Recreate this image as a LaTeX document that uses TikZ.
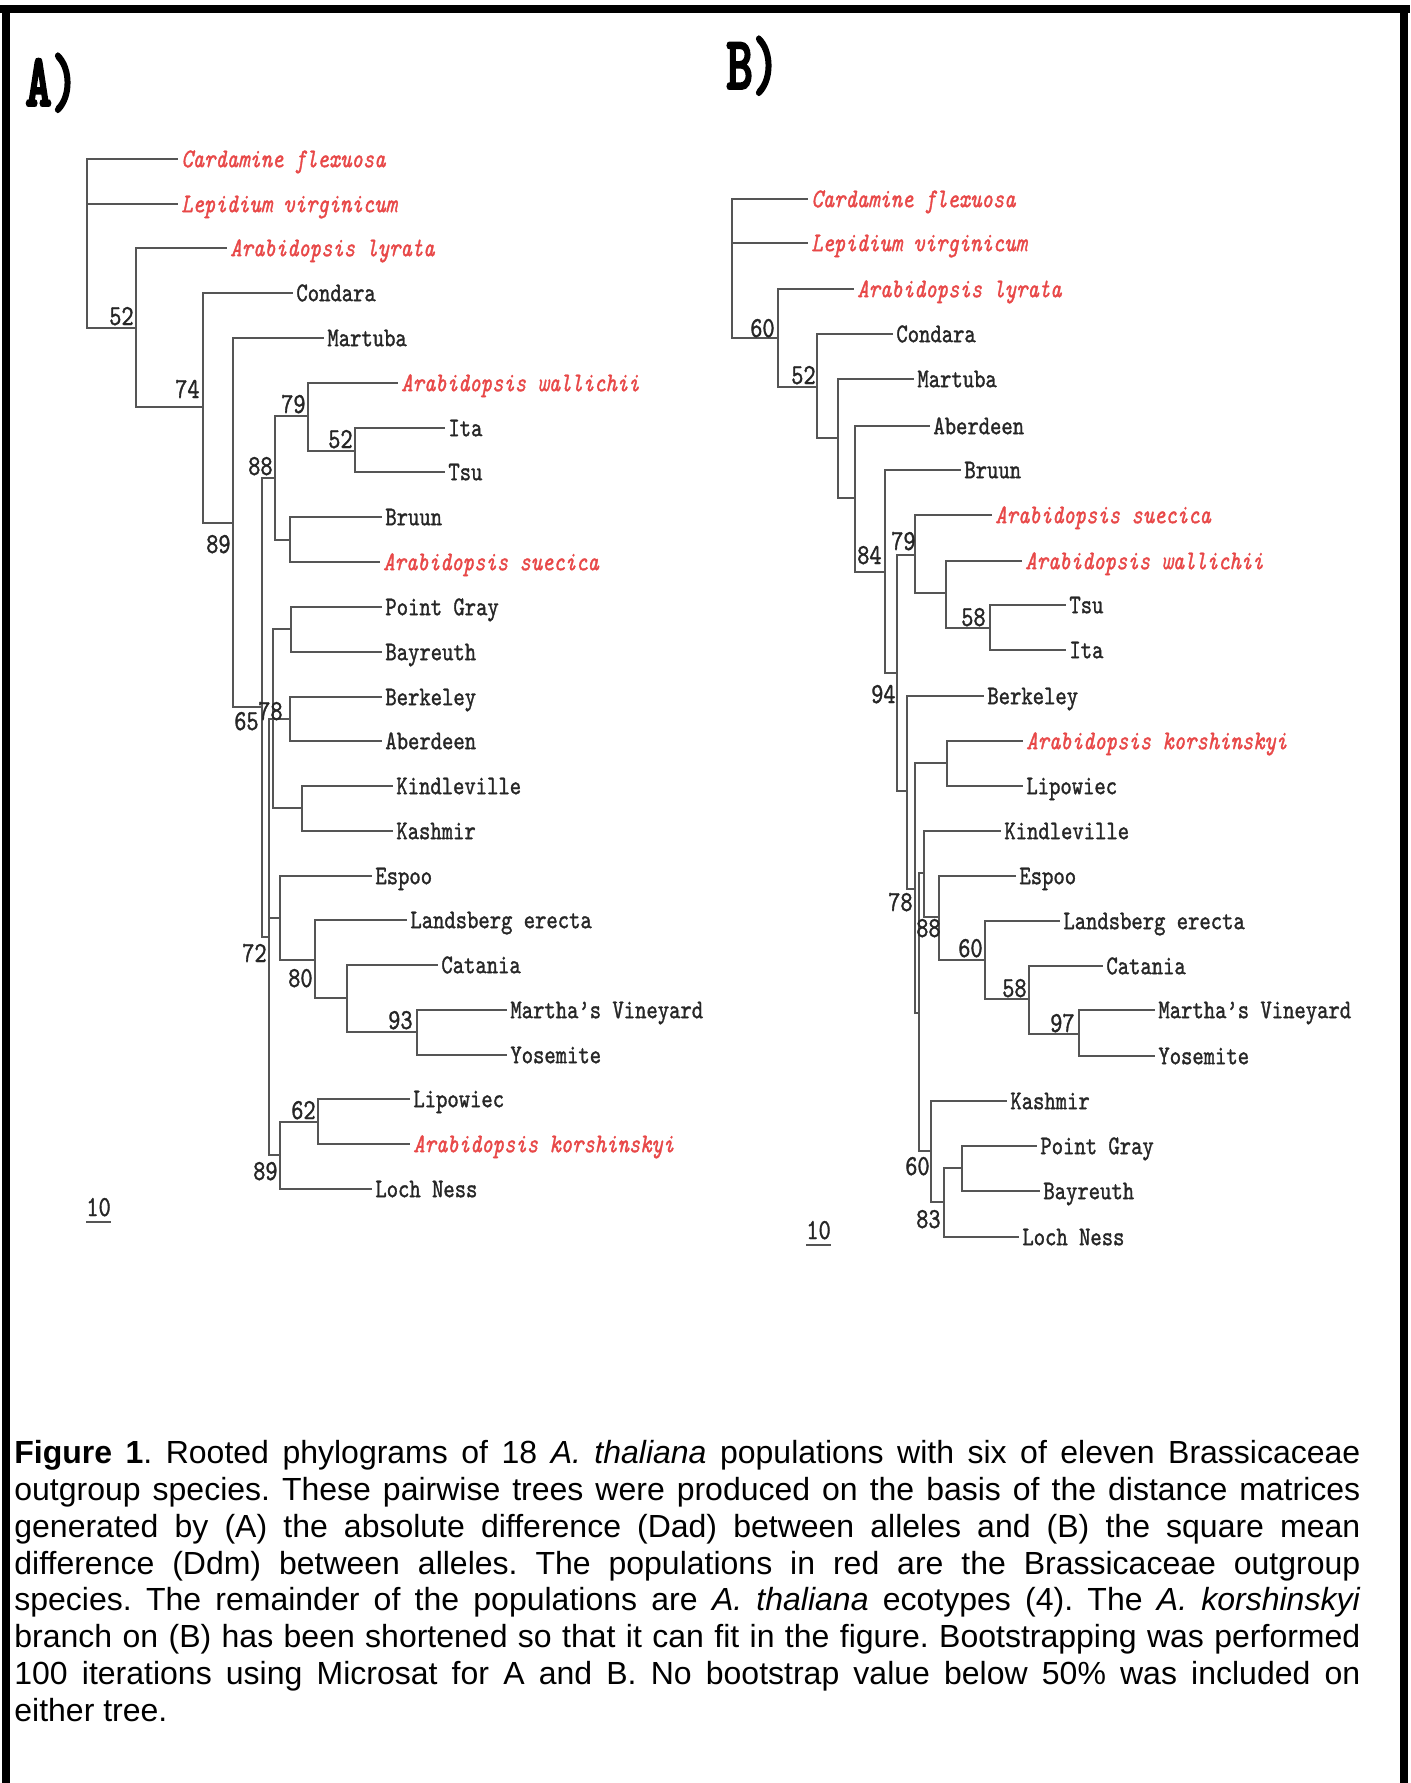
\documentclass[tikz,border=0pt]{standalone}
\usepackage{fontspec}
\setmainfont{Liberation Sans}
\newfontfamily\treefont{lmmono10-regular}[Extension=.otf, ItalicFont=lmmono10-italic, FakeStretch=0.8, FakeBold=1.2]
\newfontfamily\panelfont{lmmonolt10-bold}[Extension=.otf, FakeStretch=0.66, FakeBold=2.5]
\usetikzlibrary{positioning}
\definecolor{outred}{RGB}{232,72,72}
\definecolor{branch}{RGB}{85,85,85}

\begin{document}
\begin{tikzpicture} [
    x=0.5pt, y=-0.5pt,
    br/.style = {branch, line width=1pt},
    leaf/.style = {anchor=west, inner xsep=1.5pt, inner ysep=0pt, text height=8.2pt, text depth=0pt,
        text=black!85, font=\treefont\fontsize{13.5}{14}\selectfont},
    outgrp/.style = {leaf, text=outred, font=\treefont\itshape\fontsize{13.5}{14}\selectfont},
    boot/.style = {anchor=base east, inner sep=0pt, text=black!85, font=\treefont\fontsize{14.5}{15}\selectfont},
    panel/.style = {anchor=base west, inner sep=0pt, font=\panelfont\fontsize{38}{40}\selectfont}
]
    \fill[white] (0,0) rectangle (1410,1783);
    \useasboundingbox (0,0) rectangle (1410,1783);

    % frame
    \draw[line width=4pt] (6,5) -- (6,1783);
    \draw[line width=4pt] (1404,5) -- (1404,1783);
    \draw[line width=4pt] (0,9) -- (1410,9);

    \node[panel] (panA) at (25,106) {A)};
    \node[panel] (panB) at (726,89) {B)};

    % ---------- tree A ----------
    \coordinate (aR)   at (87,243);
    \coordinate (a52)  at (136,328);
    \coordinate (a74)  at (203,407);
    \coordinate (a89)  at (233,523);
    \coordinate (a65)  at (262,707);
    \coordinate (a88)  at (275,478);
    \coordinate (a79)  at (308,416);
    \coordinate (a52b) at (355,451);
    \coordinate (aBS)  at (290,540);
    \coordinate (a72)  at (269,937);
    \coordinate (a78)  at (273,719);
    \coordinate (aPB)  at (291,629);
    \coordinate (aBA)  at (290,719);
    \coordinate (aKK)  at (302,808);
    \coordinate (aEs)  at (280,918);
    \coordinate (a80)  at (315,960);
    \coordinate (aC)   at (347,998);
    \coordinate (a93)  at (417,1032);
    \coordinate (a89b) at (280,1155);
    \coordinate (a62)  at (318,1122);

    \node[outgrp] (aCard)  at (178,159)  {Cardamine flexuosa};
    \node[outgrp] (aLepi)  at (178,204)  {Lepidium virginicum};
    \node[outgrp] (aLyra)  at (227,248)  {Arabidopsis lyrata};
    \node[leaf]   (aCond)  at (293,293)  {Condara};
    \node[leaf]   (aMart)  at (324,338)  {Martuba};
    \node[outgrp] (aWall)  at (398,383)  {Arabidopsis wallichii};
    \node[leaf]   (aIta)   at (445,428)  {Ita};
    \node[leaf]   (aTsu)   at (445,472)  {Tsu};
    \node[leaf]   (aBruun) at (382,517)  {Bruun};
    \node[outgrp] (aSuec)  at (380,562)  {Arabidopsis suecica};
    \node[leaf]   (aPGray) at (382,607)  {Point Gray};
    \node[leaf]   (aBayr)  at (382,652)  {Bayreuth};
    \node[leaf]   (aBerk)  at (382,697)  {Berkeley};
    \node[leaf]   (aAber)  at (382,741)  {Aberdeen};
    \node[leaf]   (aKind)  at (393,786)  {Kindleville};
    \node[leaf]   (aKash)  at (393,831)  {Kashmir};
    \node[leaf]   (aEspoo) at (372,876)  {Espoo};
    \node[leaf]   (aLands) at (407,920)  {Landsberg erecta};
    \node[leaf]   (aCata)  at (438,965)  {Catania};
    \node[leaf]   (aMV)    at (507,1010) {Martha’s Vineyard};
    \node[leaf]   (aYos)   at (507,1055) {Yosemite};
    \node[leaf]   (aLipo)  at (410,1099) {Lipowiec};
    \node[outgrp] (aKors)  at (410,1144) {Arabidopsis korshinskyi};
    \node[leaf]   (aLoch)  at (372,1189) {Loch Ness};

    \draw[br] (aR) |- (aCard.west) (aR) |- (aLepi.west) (aR) |- (a52);
    \draw[br] (a52) |- (aLyra.west) (a52) |- (a74);
    \draw[br] (a74) |- (aCond.west) (a74) |- (a89);
    \draw[br] (a89) |- (aMart.west) (a89) |- (a65);
    \draw[br] (a65) |- (a88) (a65) |- (a72);
    \draw[br] (a88) |- (a79) (a88) |- (aBS);
    \draw[br] (a79) |- (aWall.west) (a79) |- (a52b);
    \draw[br] (a52b) |- (aIta.west) (a52b) |- (aTsu.west);
    \draw[br] (aBS) |- (aBruun.west) (aBS) |- (aSuec.west);
    \draw[br] (a72) |- (a78) (a72) |- (aEs) (a72) |- (a89b);
    \draw[br] (a78) |- (aPB) (a78) |- (aBA) (a78) |- (aKK);
    \draw[br] (aPB) |- (aPGray.west) (aPB) |- (aBayr.west);
    \draw[br] (aBA) |- (aBerk.west) (aBA) |- (aAber.west);
    \draw[br] (aKK) |- (aKind.west) (aKK) |- (aKash.west);
    \draw[br] (aEs) |- (aEspoo.west) (aEs) |- (a80);
    \draw[br] (a80) |- (aLands.west) (a80) |- (aC);
    \draw[br] (aC) |- (aCata.west) (aC) |- (a93);
    \draw[br] (a93) |- (aMV.west) (a93) |- (aYos.west);
    \draw[br] (a89b) |- (a62) (a89b) |- (aLoch.west);
    \draw[br] (a62) |- (aLipo.west) (a62) |- (aKors.west);

    \node[boot] (a52l)  at (134,325)  {52};
    \node[boot] (a74l)  at (200,398)  {74};
    \node[boot] (a89l)  at (231,553)  {89};
    \node[boot] (a88l)  at (273,475)  {88};
    \node[boot] (a79l)  at (306,413)  {79};
    \node[boot] (a52bl) at (353,448)  {52};
    \node[boot] (a65l)  at (259,730)  {65};
    \node[boot] (a78l)  at (283,720)  {78};
    \node[boot] (a72l)  at (267,962)  {72};
    \node[boot] (a80l)  at (313,987)  {80};
    \node[boot] (a93l)  at (413,1029) {93};
    \node[boot] (a62l)  at (316,1119) {62};
    \node[boot] (a89bl) at (278,1180) {89};

    \node[boot, anchor=base west] (aScale) at (86,1216) {10};
    \draw[br] ([yshift=-2.5pt]aScale.south west) -- ([yshift=-2.5pt]aScale.south east);

    % ---------- tree B ----------
    \coordinate (bR)   at (732,268);
    \coordinate (b60)  at (778,338);
    \coordinate (b52)  at (817,387);
    \coordinate (bM)   at (838,438);
    \coordinate (bA)   at (855,498);
    \coordinate (b84)  at (885,572);
    \coordinate (b94)  at (897,673);
    \coordinate (b79)  at (915,555);
    \coordinate (bW)   at (946,593);
    \coordinate (b58)  at (990,628);
    \coordinate (bX)   at (907,791);
    \coordinate (b78)  at (915,889);
    \coordinate (bKL)  at (947,763);
    \coordinate (bY)   at (919,1013);
    \coordinate (bZ)   at (924,873);
    \coordinate (b88)  at (939,917);
    \coordinate (b60c) at (985,960);
    \coordinate (b58b) at (1029,999);
    \coordinate (b97)  at (1079,1034);
    \coordinate (b60b) at (931,1151);
    \coordinate (b83)  at (944,1202);
    \coordinate (bPB)  at (962,1168);

    \node[outgrp] (bCard)  at (808,199)  {Cardamine flexuosa};
    \node[outgrp] (bLepi)  at (808,243)  {Lepidium virginicum};
    \node[outgrp] (bLyra)  at (854,289)  {Arabidopsis lyrata};
    \node[leaf]   (bCond)  at (893,334)  {Condara};
    \node[leaf]   (bMart)  at (914,379)  {Martuba};
    \node[leaf]   (bAber)  at (930,426)  {Aberdeen};
    \node[leaf]   (bBruun) at (961,470)  {Bruun};
    \node[outgrp] (bSuec)  at (992,515)  {Arabidopsis suecica};
    \node[outgrp] (bWall)  at (1022,561) {Arabidopsis wallichii};
    \node[leaf]   (bTsu)   at (1066,605) {Tsu};
    \node[leaf]   (bIta)   at (1066,650) {Ita};
    \node[leaf]   (bBerk)  at (984,696)  {Berkeley};
    \node[outgrp] (bKors)  at (1023,741) {Arabidopsis korshinskyi};
    \node[leaf]   (bLipo)  at (1023,786) {Lipowiec};
    \node[leaf]   (bKind)  at (1001,831) {Kindleville};
    \node[leaf]   (bEspoo) at (1016,876) {Espoo};
    \node[leaf]   (bLands) at (1060,921) {Landsberg erecta};
    \node[leaf]   (bCata)  at (1103,966) {Catania};
    \node[leaf]   (bMV)    at (1155,1010) {Martha’s Vineyard};
    \node[leaf]   (bYos)   at (1155,1056) {Yosemite};
    \node[leaf]   (bKash)  at (1007,1101) {Kashmir};
    \node[leaf]   (bPGray) at (1037,1146) {Point Gray};
    \node[leaf]   (bBayr)  at (1040,1191) {Bayreuth};
    \node[leaf]   (bLoch)  at (1019,1237) {Loch Ness};

    \draw[br] (bR) |- (bCard.west) (bR) |- (bLepi.west) (bR) |- (b60);
    \draw[br] (b60) |- (bLyra.west) (b60) |- (b52);
    \draw[br] (b52) |- (bCond.west) (b52) |- (bM);
    \draw[br] (bM) |- (bMart.west) (bM) |- (bA);
    \draw[br] (bA) |- (bAber.west) (bA) |- (b84);
    \draw[br] (b84) |- (bBruun.west) (b84) |- (b94);
    \draw[br] (b94) |- (b79) (b94) |- (bX);
    \draw[br] (b79) |- (bSuec.west) (b79) |- (bW);
    \draw[br] (bW) |- (bWall.west) (bW) |- (b58);
    \draw[br] (b58) |- (bTsu.west) (b58) |- (bIta.west);
    \draw[br] (bX) |- (bBerk.west) (bX) |- (b78);
    \draw[br] (b78) |- (bKL) (b78) |- (bY);
    \draw[br] (bKL) |- (bKors.west) (bKL) |- (bLipo.west);
    \draw[br] (bY) |- (bZ) (bY) |- (b60b);
    \draw[br] (bZ) |- (bKind.west) (bZ) |- (b88);
    \draw[br] (b88) |- (bEspoo.west) (b88) |- (b60c);
    \draw[br] (b60c) |- (bLands.west) (b60c) |- (b58b);
    \draw[br] (b58b) |- (bCata.west) (b58b) |- (b97);
    \draw[br] (b97) |- (bMV.west) (b97) |- (bYos.west);
    \draw[br] (b60b) |- (bKash.west) (b60b) |- (b83);
    \draw[br] (b83) |- (bPB) (b83) |- (bLoch.west);
    \draw[br] (bPB) |- (bPGray.west) (bPB) |- (bBayr.west);

    \node[boot] (b60l)  at (775,337)  {60};
    \node[boot] (b52l)  at (816,384)  {52};
    \node[boot] (b84l)  at (882,564)  {84};
    \node[boot] (b79l)  at (916,550)  {79};
    \node[boot] (b58l)  at (986,626)  {58};
    \node[boot] (b94l)  at (896,703)  {94};
    \node[boot] (b78l)  at (913,911)  {78};
    \node[boot] (b88l)  at (941,937)  {88};
    \node[boot] (b60cl) at (983,957)  {60};
    \node[boot] (b58bl) at (1027,997) {58};
    \node[boot] (b97l)  at (1075,1032) {97};
    \node[boot] (b60bl) at (930,1175) {60};
    \node[boot] (b83l)  at (941,1228) {83};

    \node[boot, anchor=base west] (bScale) at (806,1239) {10};
    \draw[br] ([yshift=-2.5pt]bScale.south west) -- ([yshift=-2.5pt]bScale.south east);

    % caption
    \node[anchor=north west, inner sep=0pt, text width=673pt, align=justify,
        font=\fontsize{16}{18.4}\selectfont\frenchspacing] (caption) at (14,1440) {%
        \textbf{Figure 1}. Rooted phylograms of 18 \textit{A. thaliana} populations with six of eleven Brassicaceae\linebreak
        outgroup species. These pairwise trees were produced on the basis of the distance matrices\linebreak
        generated by (A) the absolute difference (Dad) between alleles and (B) the square mean\linebreak
        difference (Ddm) between alleles. The populations in red are the Brassicaceae outgroup\linebreak
        species. The remainder of the populations are \textit{A. thaliana} ecotypes (4). The \textit{A. korshinskyi}\linebreak
        branch on (B) has been shortened so that it can fit in the figure. Bootstrapping was performed\linebreak
        100 iterations using Microsat for A and B. No bootstrap value below 50\% was included on\linebreak
        either tree.};
\end{tikzpicture}
\end{document}
